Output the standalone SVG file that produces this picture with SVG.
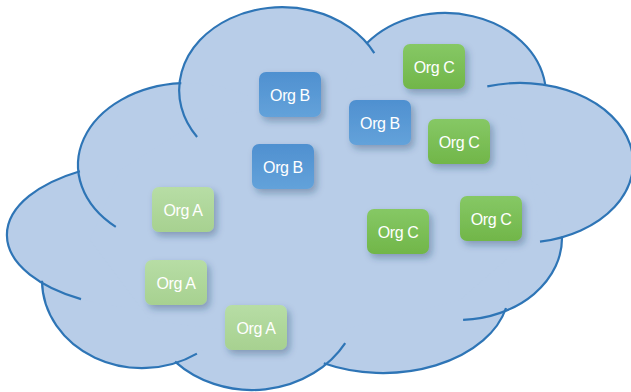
<svg xmlns="http://www.w3.org/2000/svg" width="631" height="392" viewBox="0 0 631 392">
<defs>
<style>
.lobe{fill:#B8CDE8;stroke:none}
.edge{fill:none;stroke:#2E75B6;stroke-width:2.2}
.box{filter:url(#sh)}
.lbl{font-family:"Liberation Sans",Arial,sans-serif;font-size:16px;fill:#FFFFFF;text-anchor:middle;letter-spacing:-0.4px}
</style>
<linearGradient id="gA" x1="0" y1="0" x2="0" y2="1"><stop offset="0" stop-color="#B7DDA5"/><stop offset="1" stop-color="#A7D190"/></linearGradient>
<linearGradient id="gB" x1="0" y1="0" x2="0" y2="1"><stop offset="0" stop-color="#4F90D0"/><stop offset="1" stop-color="#63A2DA"/></linearGradient>
<linearGradient id="gC" x1="0" y1="0" x2="0" y2="1"><stop offset="0" stop-color="#86C865"/><stop offset="1" stop-color="#71B649"/></linearGradient>
<filter id="sh" x="-30%" y="-30%" width="160%" height="170%">
<feDropShadow dx="3" dy="4" stdDeviation="3.5" flood-color="#1F3A60" flood-opacity="0.35"/>
</filter>
</defs>
<g id="cloud">
<ellipse class="lobe" cx="282" cy="90" rx="103" ry="83"/>
<ellipse class="lobe" cx="445" cy="95" rx="101" ry="82"/>
<ellipse class="lobe" cx="520" cy="163" rx="113" ry="80"/>
<ellipse class="lobe" cx="458" cy="238" rx="104" ry="82"/>
<ellipse class="lobe" cx="383" cy="290" rx="126" ry="83"/>
<ellipse class="lobe" cx="252" cy="295" rx="108" ry="95"/>
<ellipse class="lobe" cx="142" cy="280" rx="100" ry="88"/>
<ellipse class="lobe" cx="155" cy="235" rx="148" ry="74"/>
<ellipse class="lobe" cx="188" cy="165" rx="110" ry="82"/>
<polygon class="lobe" points="200,120 400,80 520,120 540,230 460,300 300,340 150,320 90,240 120,170"/>
<path class="edge" d="M197.1,137 A103,83 0 1 1 374.3,53.1"/>
<path class="edge" d="M367,43 A101,82 0 0 1 545.2,84.4"/>
<path class="edge" d="M487.3,86.4 A113,80 0 1 1 540,241.7"/>
<path class="edge" d="M562,236.6 A104,82 0 0 1 463.1,319.9"/>
<path class="edge" d="M506,308 A126,83 0 0 1 323.8,363.3"/>
<path class="edge" d="M345.2,343.1 A108,95 0 0 1 175,361.6"/>
<path class="edge" d="M196.9,353.6 A100,88 0 0 1 42,280.8"/>
<path class="edge" d="M81,299.1 A148,74 0 0 1 79.9,171.2"/>
<path class="edge" d="M115.8,226.9 A110,82 0 0 1 181.3,83.2"/>
</g>
<g id="connectors"></g>
<g id="nodes">
<g id="orgA1"><rect class="box" x="152" y="187" width="62" height="45" rx="7" fill="url(#gA)"/><text class="lbl" x="183" y="215.5">Org A</text></g>
<g id="orgA2"><rect class="box" x="145" y="260" width="62" height="45" rx="7" fill="url(#gA)"/><text class="lbl" x="176" y="288.5">Org A</text></g>
<g id="orgA3"><rect class="box" x="225" y="305" width="62" height="45" rx="7" fill="url(#gA)"/><text class="lbl" x="256" y="333.5">Org A</text></g>
<g id="orgB1"><rect class="box" x="259" y="72" width="62" height="45" rx="7" fill="url(#gB)"/><text class="lbl" x="290" y="100.5">Org B</text></g>
<g id="orgB2"><rect class="box" x="349" y="100" width="62" height="45" rx="7" fill="url(#gB)"/><text class="lbl" x="380" y="128.5">Org B</text></g>
<g id="orgB3"><rect class="box" x="252" y="144" width="62" height="45" rx="7" fill="url(#gB)"/><text class="lbl" x="283" y="172.5">Org B</text></g>
<g id="orgC1"><rect class="box" x="403" y="44" width="62" height="45" rx="7" fill="url(#gC)"/><text class="lbl" x="434" y="72.5">Org C</text></g>
<g id="orgC2"><rect class="box" x="428" y="119" width="62" height="45" rx="7" fill="url(#gC)"/><text class="lbl" x="459" y="147.5">Org C</text></g>
<g id="orgC3"><rect class="box" x="367" y="209" width="62" height="45" rx="7" fill="url(#gC)"/><text class="lbl" x="398" y="237.5">Org C</text></g>
<g id="orgC4"><rect class="box" x="460" y="196" width="62" height="45" rx="7" fill="url(#gC)"/><text class="lbl" x="491" y="224.5">Org C</text></g>
</g>
</svg>
